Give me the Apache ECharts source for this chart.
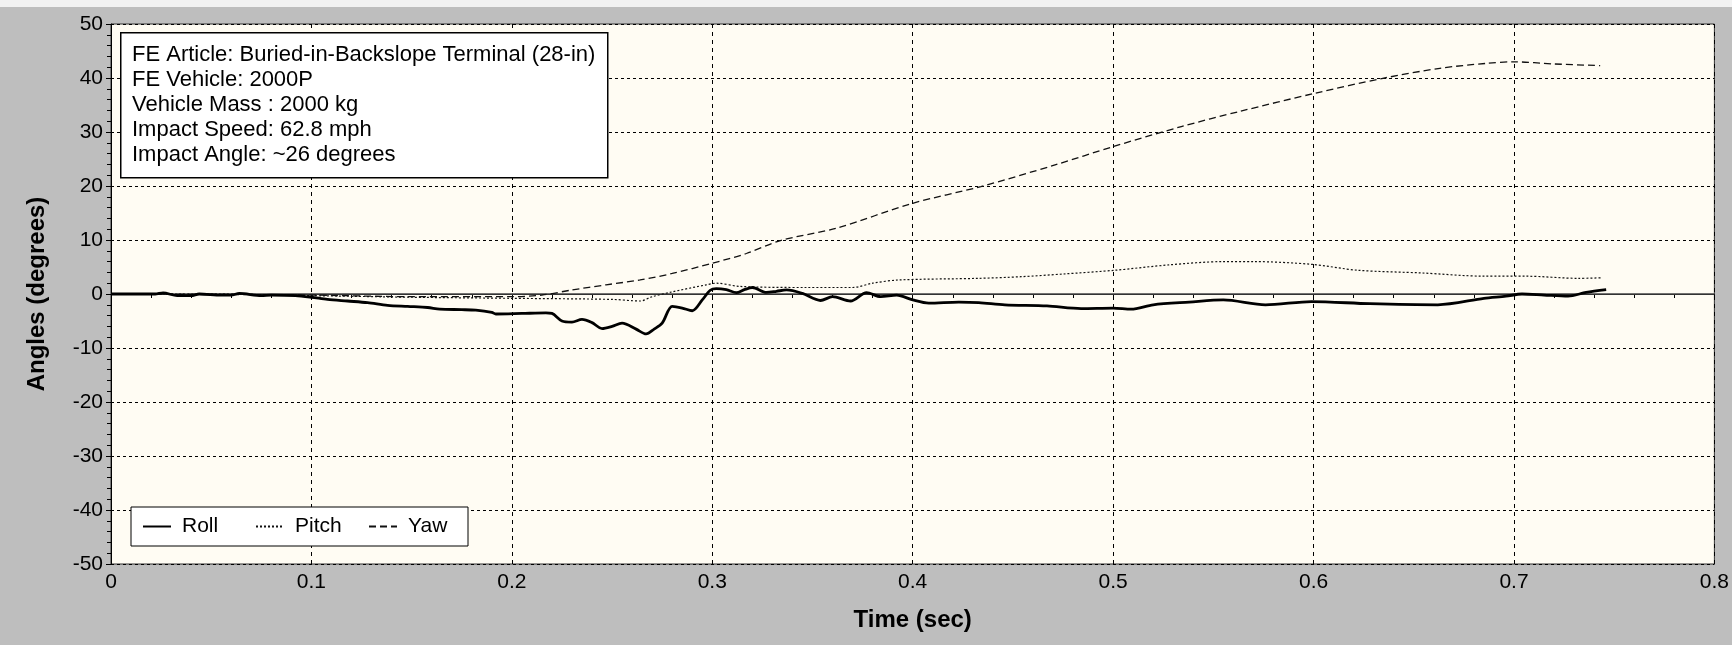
<!DOCTYPE html>
<html>
<head>
<meta charset="utf-8">
<title>Roll, Pitch and Yaw Angles</title>
<script src="https://cdn.jsdelivr.net/npm/echarts@6/dist/echarts.min.js"></script>
<style>
  html, body { margin: 0; padding: 0; background: #bebebe; }
  #chart { width: 1732px; height: 645px; }
</style>
</head>
<body>
<div id="chart"></div>
<script>
// values
const rollTime = [0, 0.022, 0.026, 0.033, 0.040, 0.044, 0.055, 0.060, 0.064, 0.075, 0.080, 0.092, 0.100, 0.108, 0.118, 0.128, 0.138, 0.148, 0.158, 0.164, 0.175, 0.182, 0.190, 0.192, 0.205, 0.217, 0.220, 0.225, 0.230, 0.235, 0.240, 0.245, 0.250, 0.255, 0.262, 0.267, 0.271, 0.275, 0.280, 0.285, 0.290, 0.295, 0.299, 0.302, 0.307, 0.312, 0.316, 0.320, 0.327, 0.332, 0.337, 0.345, 0.354, 0.360, 0.369, 0.377, 0.384, 0.392, 0.400, 0.408, 0.423, 0.433, 0.446, 0.467, 0.484, 0.500, 0.509, 0.520, 0.538, 0.555, 0.576, 0.599, 0.628, 0.662, 0.685, 0.696, 0.704, 0.715, 0.727, 0.736, 0.746];
const rollAngle = [0, 0, 0.2, -0.3, -0.3, 0, -0.2, -0.2, 0.1, -0.3, -0.2, -0.3, -0.6, -1.0, -1.3, -1.6, -2.1, -2.3, -2.5, -2.8, -2.9, -3.0, -3.4, -3.7, -3.6, -3.5, -3.6, -5.0, -5.2, -4.7, -5.3, -6.4, -6.0, -5.4, -6.5, -7.4, -6.5, -5.4, -2.3, -2.6, -3.1, -1.1, 0.7, 1.0, 0.8, 0.25, 0.8, 1.2, 0.3, 0.5, 0.75, 0.1, -1.2, -0.5, -1.3, 0.25, -0.5, -0.2, -1.1, -1.7, -1.5, -1.6, -2.0, -2.2, -2.7, -2.6, -2.8, -2.0, -1.5, -1.1, -2.0, -1.4, -1.8, -2.0, -0.8, -0.4, 0.0, -0.2, -0.4, 0.3, 0.8];

const pitchTime = [0, 0.05, 0.1, 0.15, 0.2, 0.25, 0.264, 0.270, 0.280, 0.297, 0.302, 0.314, 0.347, 0.370, 0.380, 0.393, 0.433, 0.454, 0.475, 0.501, 0.528, 0.555, 0.570, 0.599, 0.622, 0.654, 0.685, 0.706, 0.732, 0.744];
const pitchAngle = [0, 0, -0.3, -0.6, -0.8, -1.0, -1.3, -0.5, 0.4, 1.7, 2.0, 1.4, 1.2, 1.2, 2.0, 2.6, 2.9, 3.2, 3.7, 4.4, 5.4, 6.0, 6.0, 5.5, 4.4, 3.9, 3.3, 3.3, 2.9, 3.0];

const yawTime = [0, 0.1, 0.15, 0.2, 0.215, 0.230, 0.247, 0.264, 0.280, 0.300, 0.317, 0.334, 0.362, 0.400, 0.434, 0.471, 0.500, 0.534, 0.563, 0.601, 0.634, 0.663, 0.686, 0.700, 0.720, 0.743];
const yawAngle = [0, -0.2, -0.5, -0.5, -0.2, 0.75, 1.7, 2.6, 3.8, 5.7, 7.5, 9.9, 12.2, 16.8, 19.9, 23.9, 27.3, 31.0, 33.8, 37.2, 39.9, 41.8, 42.7, 43.0, 42.6, 42.3];

const seriesNames = ["Roll", "Pitch", "Yaw"];
const infoLines = [
  "FE Article: Buried-in-Backslope Terminal (28-in)",
  "FE Vehicle: 2000P",
  "Vehicle Mass : 2000 kg",
  "Impact Speed: 62.8 mph",
  "Impact Angle: ~26 degrees",
];

const font = '"Liberation Sans", Arial, sans-serif';
const pairs = (xs, ys) => xs.map((x, i) => [x, ys[i]]);

const chart = echarts.init(document.getElementById("chart"));

const option = {
  backgroundColor: "#bebebe",
  animation: false,
  textStyle: { fontFamily: font },
  grid: {
    left: 111,
    right: 17,
    top: 24,
    bottom: 81,
    show: true,
    backgroundColor: "#fffcf3",
    borderWidth: 1,
    borderColor: "#333",
  },
  legend: {
    data: seriesNames,
    left: 131,
    top: 507,
    orient: "horizontal",
    backgroundColor: "#ffffff",
    borderColor: "#000",
    borderWidth: 1,
    padding: [9, 0, 9, 11],
    itemWidth: 28,
    itemHeight: 14,
    itemGap: 13,
    itemStyle: { opacity: 0 },
    textStyle: {
      fontFamily: font,
      fontSize: 21,
      color: "#000",
      width: 60,
      lineHeight: 21,
      padding: [0, 0, 0, 6],
    },
  },
  xAxis: {
    type: "value",
    min: 0,
    max: 0.8,
    interval: 0.1,
    name: "Time (sec)",
    nameLocation: "middle",
    nameGap: 44,
    nameTextStyle: { fontFamily: font, fontSize: 24, fontWeight: "bold", color: "#000" },
    axisLine: { show: true, lineStyle: { color: "#000", width: 1 } },
    axisTick: { show: true, length: 5, lineStyle: { color: "#000" } },
    minorTick: { show: true, splitNumber: 5, length: 4, lineStyle: { color: "#000" } },
    axisLabel: {
      fontFamily: font,
      fontSize: 21,
      color: "#000",
      margin: 8,
      formatter: (v) => (v === 0 ? "0" : String(+v.toFixed(1))),
    },
    splitLine: { show: true, lineStyle: { color: "#000", width: 1, type: [4, 4] } },
  },
  yAxis: {
    type: "value",
    min: -50,
    max: 50,
    interval: 10,
    name: "Angles (degrees)",
    nameLocation: "middle",
    nameGap: 62,
    nameTextStyle: { fontFamily: font, fontSize: 24, fontWeight: "bold", color: "#000" },
    axisLine: { show: true, lineStyle: { color: "#000", width: 1 } },
    axisTick: { show: true, length: 5, lineStyle: { color: "#000" } },
    minorTick: { show: true, splitNumber: 5, length: 4, lineStyle: { color: "#000" } },
    axisLabel: { fontFamily: font, fontSize: 21, color: "#000", margin: 8 },
    splitLine: { show: true, lineStyle: { color: "#000", width: 1, type: [3, 3] } },
  },
  graphic: [
    {
      type: "rect",
      left: 0,
      top: 0,
      z: 0,
      shape: { width: 1732, height: 7 },
      style: { fill: "#f2f2f2" },
    },
    {
      type: "rect",
      left: 120,
      top: 32,
      z: 100,
      shape: { width: 487, height: 145 },
      style: { fill: "#ffffff", stroke: "#000", lineWidth: 1.5 },
    },
    {
      type: "text",
      left: 132,
      top: 42,
      z: 101,
      style: {
        text: infoLines.join("\n"),
        font: "22px " + font,
        lineHeight: 25,
        fill: "#000",
      },
    },
  ],
  series: [
    {
      name: "Roll",
      type: "line",
      data: pairs(rollTime, rollAngle),
      symbol: "none",
      smooth: 0.3,
      z: 5,
      lineStyle: { color: "#000", width: 2.8, type: "solid" },
      itemStyle: { color: "#000" },
      markLine: {
        silent: true,
        symbol: "none",
        label: { show: false },
        lineStyle: { color: "#444", width: 1.5, type: "solid" },
        data: [{ yAxis: 0 }],
        z: 2,
      },
    },
    {
      name: "Pitch",
      type: "line",
      data: pairs(pitchTime, pitchAngle),
      symbol: "none",
      smooth: 0.3,
      z: 4,
      lineStyle: { color: "#111", width: 1.2, type: [2, 2] },
      itemStyle: { color: "#111" },
    },
    {
      name: "Yaw",
      type: "line",
      data: pairs(yawTime, yawAngle),
      symbol: "none",
      smooth: 0.3,
      z: 4,
      lineStyle: { color: "#111", width: 1.3, type: [7, 4] },
      itemStyle: { color: "#111" },
    },
  ],
};

chart.setOption(option);
</script>
</body>
</html>
